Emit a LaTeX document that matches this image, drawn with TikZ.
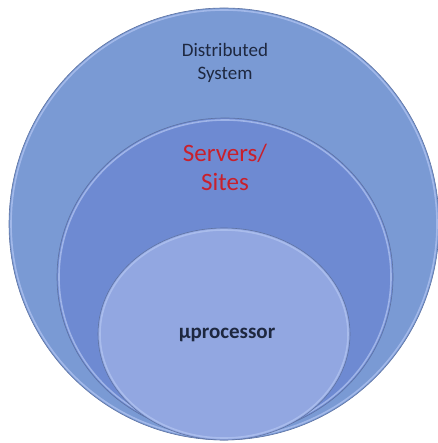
\documentclass[tikz,border=0pt]{standalone}
\usepackage{fontspec}
\setmainfont{Carlito}
\definecolor{outerfill}{HTML}{7A9AD4}
\definecolor{midfill}{HTML}{6E8AD2}
\definecolor{innerfill}{HTML}{92A7E1}
\definecolor{rimlight}{HTML}{B4C6F2}
\definecolor{rimdark}{HTML}{5E73A3}
\definecolor{navytext}{HTML}{1E2840}
\definecolor{redtext}{HTML}{C8202C}
\tikzset{
  disc/.style={fill=#1, draw=rimdark, line width=0.6pt},
  rim/.style={draw=rimlight, line width=1.6pt, opacity=0.7},
  lbl/.style={align=center, inner sep=0pt}
}
\begin{document}
\begin{tikzpicture}[x=1pt,y=-1pt]
\useasboundingbox (0,0) rectangle (437,443);
\fill[white] (0,0) rectangle (437,443);
% outer
\draw[disc=outerfill] (224,224) ellipse [x radius=215, y radius=216];
\draw[rim] (224,224) ellipse [x radius=213, y radius=214];
% middle
\draw[disc=midfill] (225,277) ellipse [x radius=168, y radius=159];
\draw[rim] (225,277) ellipse [x radius=166, y radius=157];
% inner
\draw[disc=innerfill] (224,334) ellipse [x radius=126, y radius=106];
\draw[rim] (224,334) ellipse [x radius=124, y radius=104];
% labels
\node[lbl, text=navytext, font=\fontsize{19}{23}\selectfont] (ds) at (225,63) {Distributed\\System};
\node[lbl, text=redtext, font=\fontsize{25}{29}\selectfont] (ss) at (225,167) {Servers/\\Sites};
\node[lbl, text=navytext, font=\bfseries\fontsize{21}{25}\selectfont] (mp) at (227,335) {µprocessor};
\end{tikzpicture}
\end{document}
